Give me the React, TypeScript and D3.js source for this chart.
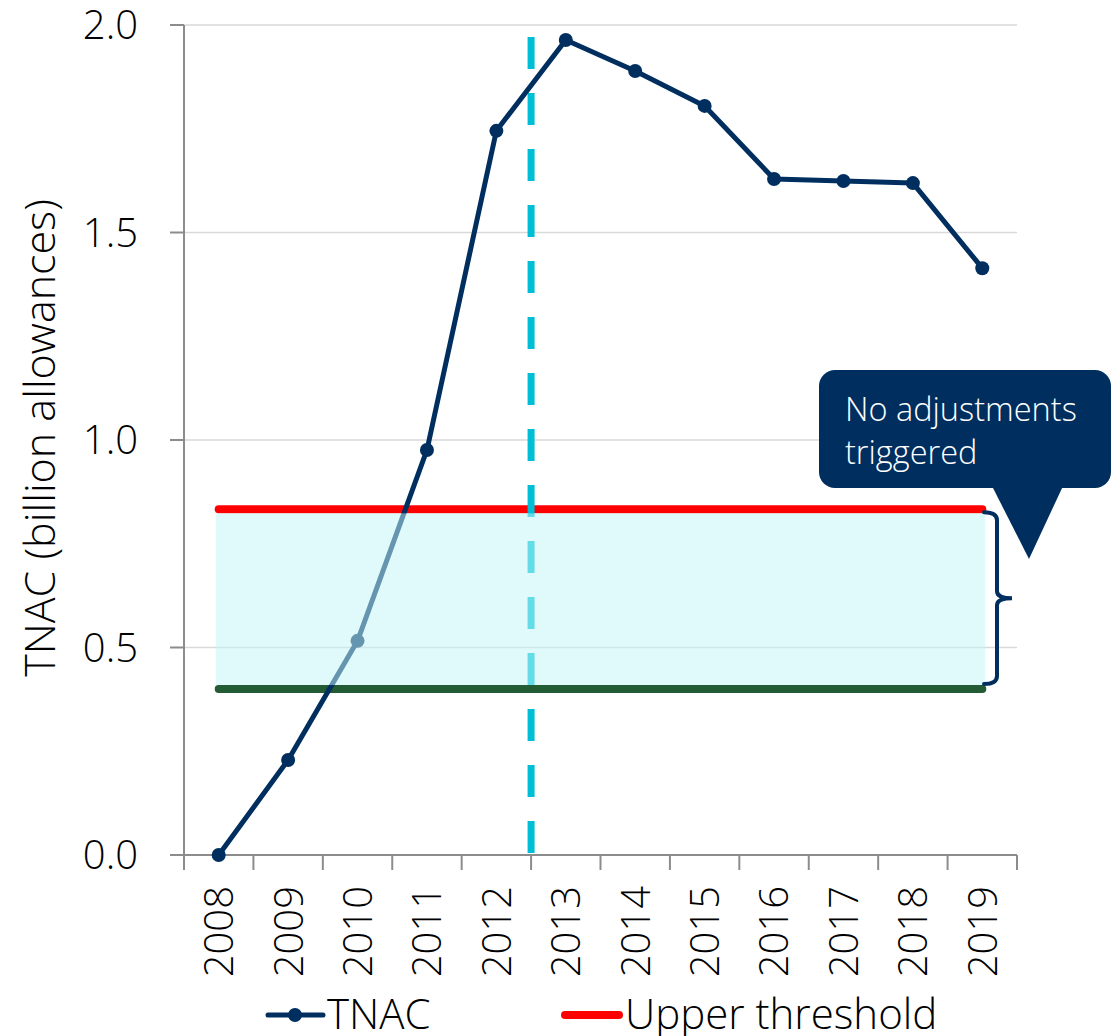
import React from "react";
import * as d3 from "d3";

// TNAC (total number of allowances in circulation), billion allowances
const years = ["2008", "2009", "2010", "2011", "2012", "2013", "2014", "2015", "2016", "2017", "2018", "2019"];
const tnac = [0.0, 0.229, 0.516, 0.976, 1.745, 1.964, 1.889, 1.805, 1.629, 1.624, 1.619, 1.414];
const upperThreshold = 0.833;
const lowerThreshold = 0.4;
const yTicks = [0, 0.5, 1.0, 1.5, 2.0];
const phaseBoundaryYear = "2013";
const calloutLines = ["No adjustments", "triggered"];
const legendItems = ["TNAC", "Upper threshold"];

const W = 1112;
const H = 1036;
const FONT = "'Open Sans', 'Noto Sans', sans-serif";
const WEIGHT = 300;
const NAVY = "#002F5F";
const RED = "#FF0000";
const GREEN = "#235B34";
const CYAN = "#00BED6";
const AXIS = "#8C8C8C";
const GRID = "#D9D9D9";

export default function App() {
  const x = d3.scaleBand<string>().domain(years).range([184, 1017]).padding(0);
  const y = d3.scaleLinear().domain([0, 2]).range([855, 25]);
  const cx = (yr: string) => (x(yr) as number) + x.bandwidth() / 2;

  const line = d3
    .line<number>()
    .x((_, i) => cx(years[i]))
    .y((d) => y(d));

  const x0 = cx(years[0]);
  const x1 = cx(years[years.length - 1]);
  const yUp = y(upperThreshold);
  const yLo = y(lowerThreshold);
  const boundaryX = x(phaseBoundaryYear) as number;

  // curly bracket spanning the band between thresholds
  const bx = 997;
  const bt = yUp + 3;
  const bb = yLo - 5;
  const bm = (bt + bb) / 2;
  const bracket = `M ${bx - 13} ${bt} Q ${bx} ${bt} ${bx} ${bt + 8} L ${bx} ${bm - 7} Q ${bx} ${bm} ${bx + 15} ${bm} Q ${bx} ${bm} ${bx} ${bm + 7} L ${bx} ${bb - 8} Q ${bx} ${bb} ${bx - 13} ${bb}`;

  return (
    <svg
      width={W}
      height={H}
      viewBox={`0 0 ${W} ${H}`}
      style={{ position: "absolute", left: 0, top: 0, background: "#fff" }}
      fontFamily={FONT}
      fontWeight={WEIGHT}
    >
      {/* gridlines */}
      {yTicks.filter((t) => t > 0).map((t) => (
        <line key={t} x1={184} x2={1017} y1={y(t)} y2={y(t)} stroke={GRID} strokeWidth={1.5} />
      ))}

      {/* axes */}
      <line x1={184} x2={184} y1={y(2)} y2={y(0)} stroke={AXIS} strokeWidth={2} />
      <line x1={170} x2={1017} y1={y(0)} y2={y(0)} stroke={AXIS} strokeWidth={2} />
      {yTicks.map((t) => (
        <line key={t} x1={170} x2={184} y1={y(t)} y2={y(t)} stroke={AXIS} strokeWidth={2} />
      ))}
      {[...years.map((yr) => x(yr) as number), 1017].map((v, i) => (
        <line key={i} x1={v} x2={v} y1={y(0)} y2={y(0) + 15} stroke={AXIS} strokeWidth={2} />
      ))}

      {/* y tick labels */}
      {yTicks.map((t) => (
        <text key={t} x={138} y={y(t)} dy="0.36em" textAnchor="end" fontSize={40} fill="#000">
          {t.toFixed(1)}
        </text>
      ))}

      {/* x tick labels */}
      {years.map((yr) => (
        <text
          key={yr}
          transform={`translate(${cx(yr)},886) rotate(-90)`}
          dy="0.36em"
          textAnchor="end"
          fontSize={40}
          fill="#000"
        >
          {yr}
        </text>
      ))}

      {/* y axis title */}
      <text
        transform={`translate(40,438) rotate(-90)`}
        dy="0.36em"
        textAnchor="middle"
        fontSize={43}
        fill="#000"
      >
        TNAC (billion allowances)
      </text>

      {/* thresholds */}
      <line x1={x0} x2={x1} y1={yUp} y2={yUp} stroke={RED} strokeWidth={8} strokeLinecap="round" />
      <line x1={x0} x2={x1} y1={yLo} y2={yLo} stroke={GREEN} strokeWidth={8} strokeLinecap="round" />

      {/* phase boundary */}
      <line
        x1={boundaryX}
        x2={boundaryX}
        y1={37}
        y2={y(0)}
        stroke={CYAN}
        strokeWidth={7}
        strokeDasharray="32 24"
      />

      {/* TNAC series */}
      <path d={line(tnac) ?? ""} fill="none" stroke={NAVY} strokeWidth={5} strokeLinejoin="round" />
      {tnac.map((v, i) => (
        <circle key={i} cx={cx(years[i])} cy={y(v)} r={7} fill={NAVY} />
      ))}

      {/* threshold band */}
      <rect
        x={x0 - 3}
        y={yUp + 4}
        width={x1 - x0 + 6}
        height={yLo - yUp - 8}
        fill="rgb(196,245,249)"
        fillOpacity={0.52}
      />

      {/* bracket */}
      <path d={bracket} fill="none" stroke={NAVY} strokeWidth={4} strokeLinecap="round" />

      {/* callout */}
      <rect x={819} y={370} width={292} height={118} rx={16} fill={NAVY} />
      <path d="M 992 486 L 1063 486 L 1029 559 Z" fill={NAVY} />
      {calloutLines.map((s, i) => (
        <text key={s} x={845} y={421 + i * 43} fontSize={32.5} fill="#fff">
          {s}
        </text>
      ))}

      {/* legend */}
      <line x1={268} x2={323} y1={1015} y2={1015} stroke={NAVY} strokeWidth={5} strokeLinecap="round" />
      <circle cx={295} cy={1015} r={7} fill={NAVY} />
      <text x={327} y={1029} fontSize={42} fill="#000">{legendItems[0]}</text>
      <line x1={565} x2={619} y1={1015} y2={1015} stroke={RED} strokeWidth={8} strokeLinecap="round" />
      <text x={625} y={1029} fontSize={42} fill="#000">{legendItems[1]}</text>
    </svg>
  );
}
